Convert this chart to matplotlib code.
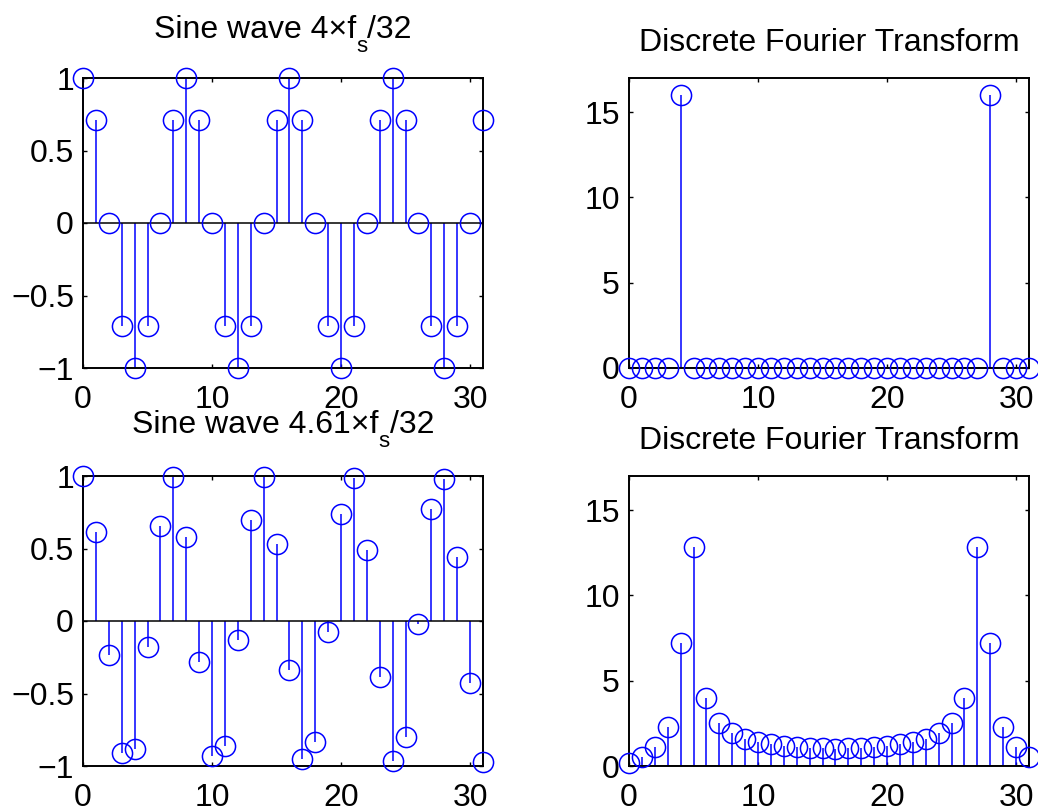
import matplotlib
matplotlib.use("Agg")
import matplotlib.pyplot as plt
import matplotlib.transforms as mtransforms
import numpy as np

# ---- data ----
n = list(range(32))
sine_4 = [1, 0.707, 0, -0.707, -1, -0.707, 0, 0.707,
          1, 0.707, 0, -0.707, -1, -0.707, 0, 0.707,
          1, 0.707, 0, -0.707, -1, -0.707, 0, 0.707,
          1, 0.707, 0, -0.707, -1, -0.707, 0, 0.707]
dft_4 = [0, 0, 0, 0, 16, 0, 0, 0, 0, 0, 0, 0, 0, 0, 0, 0,
         0, 0, 0, 0, 0, 0, 0, 0, 0, 0, 0, 0, 16, 0, 0, 0]
sine_461 = [1.0, 0.616, -0.237, -0.91, -0.885, -0.18, 0.654, 0.995,
            0.577, -0.28, -0.933, -0.86, -0.13, 0.696, 0.996, 0.53,
            -0.336, -0.95, -0.835, -0.076, 0.735, 0.989, 0.487, -0.385,
            -0.963, -0.80, -0.023, 0.771, 0.977, 0.44, -0.43, -0.975]
dft_461 = [0.2, 0.53, 1.11, 2.31, 7.23, 12.85, 4.0, 2.52,
           1.91, 1.61, 1.40, 1.27, 1.17, 1.10, 1.06, 1.04,
           1.02, 1.04, 1.06, 1.10, 1.17, 1.27, 1.40, 1.61,
           1.91, 2.52, 4.0, 12.85, 7.23, 2.31, 1.11, 0.53]

title_dft = "Discrete Fourier Transform"
title_sine_top = ("Sine wave 4\u00d7f", "s", "/32")
title_sine_bot = ("Sine wave 4.61\u00d7f", "s", "/32")
xticks = [0, 10, 20, 30]
sine_yticks = [-1, -0.5, 0, 0.5, 1]
sine_yticklabels = ["\u22121", "\u22120.5", "0", "0.5", "1"]
dft_yticks = [0, 5, 10, 15]

plt.rcParams["font.family"] = ["Liberation Sans", "DejaVu Sans"]
FS = 23
DPI = 100
fig = plt.figure(figsize=(10.38, 8.10), dpi=DPI)

W, H = 1038, 810
def pos(l, t, r, b):
    return [l / W, (H - b) / H, (r - l) / W, (b - t) / H]

ax_tl = fig.add_axes(pos(83, 78, 483, 368))
ax_tr = fig.add_axes(pos(629, 78, 1029, 368))
ax_bl = fig.add_axes(pos(83, 476, 483, 766))
ax_br = fig.add_axes(pos(629, 476, 1029, 766))

BLUE = (0, 0, 1)

def draw_stem(ax, x, y):
    c = ax.stem(x, y, linefmt="-", markerfmt="o", basefmt="k-")
    c.markerline.set_color(BLUE)
    c.markerline.set_markerfacecolor("none")
    c.markerline.set_markeredgecolor(BLUE)
    c.markerline.set_markersize(14.5)
    c.markerline.set_markeredgewidth(1.1)
    c.markerline.set_clip_on(False)
    c.markerline.set_zorder(3)
    c.stemlines.set_color(BLUE)
    c.stemlines.set_linewidth(1.1)
    c.stemlines.set_clip_on(False)
    c.baseline.set_color("black")
    c.baseline.set_linewidth(1.1)
    c.baseline.set_zorder(2.2)

def style(ax):
    ax.set_xlim(0, 31)
    ax.set_xticks(xticks)
    ax.set_xticklabels([str(t) for t in xticks])
    ax.tick_params(direction="in", length=3, width=1.0, top=True, right=True,
                   labelsize=FS, colors="black")
    ax.tick_params(axis="x", pad=12)
    ax.tick_params(axis="y", pad=6.5)
    for s in ax.spines.values():
        s.set_linewidth(1.4)
        s.set_color("black")

for ax, y in [(ax_tl, sine_4), (ax_bl, sine_461)]:
    draw_stem(ax, n, y)
    style(ax)
    ax.set_ylim(-1, 1)
    ax.set_yticks(sine_yticks)
    ax.set_yticklabels(sine_yticklabels)

for ax, y in [(ax_tr, dft_4), (ax_br, dft_461)]:
    draw_stem(ax, n, y)
    style(ax)
    ax.set_ylim(0, 17)
    ax.set_yticks(dft_yticks)
    ax.set_yticklabels([str(t) for t in dft_yticks])
    ax.set_title(title_dft, fontsize=FS, pad=27 * 72 / DPI)

renderer = fig.canvas.get_renderer()

def composite_title(ax, parts, base_px):
    pieces = [(parts[0], FS, 0), (parts[1], FS * 0.7, -14), (parts[2], FS, 0)]
    widths = []
    for s, size, dy in pieces:
        t = fig.text(0, 0, s, fontsize=size)
        widths.append(t.get_window_extent(renderer).width)
        t.remove()
    x = -sum(widths) / 2
    for (s, size, dy), w in zip(pieces, widths):
        tr = mtransforms.offset_copy(ax.transAxes, fig=fig, x=x, y=base_px + dy,
                                     units="dots")
        ax.text(0.5, 1.0, s, fontsize=size, transform=tr, ha="left",
                va="baseline", clip_on=False)
        x += w

composite_title(ax_tl, title_sine_top, 40)
composite_title(ax_bl, title_sine_bot, 43)

fig.savefig("out.png", dpi=DPI)
